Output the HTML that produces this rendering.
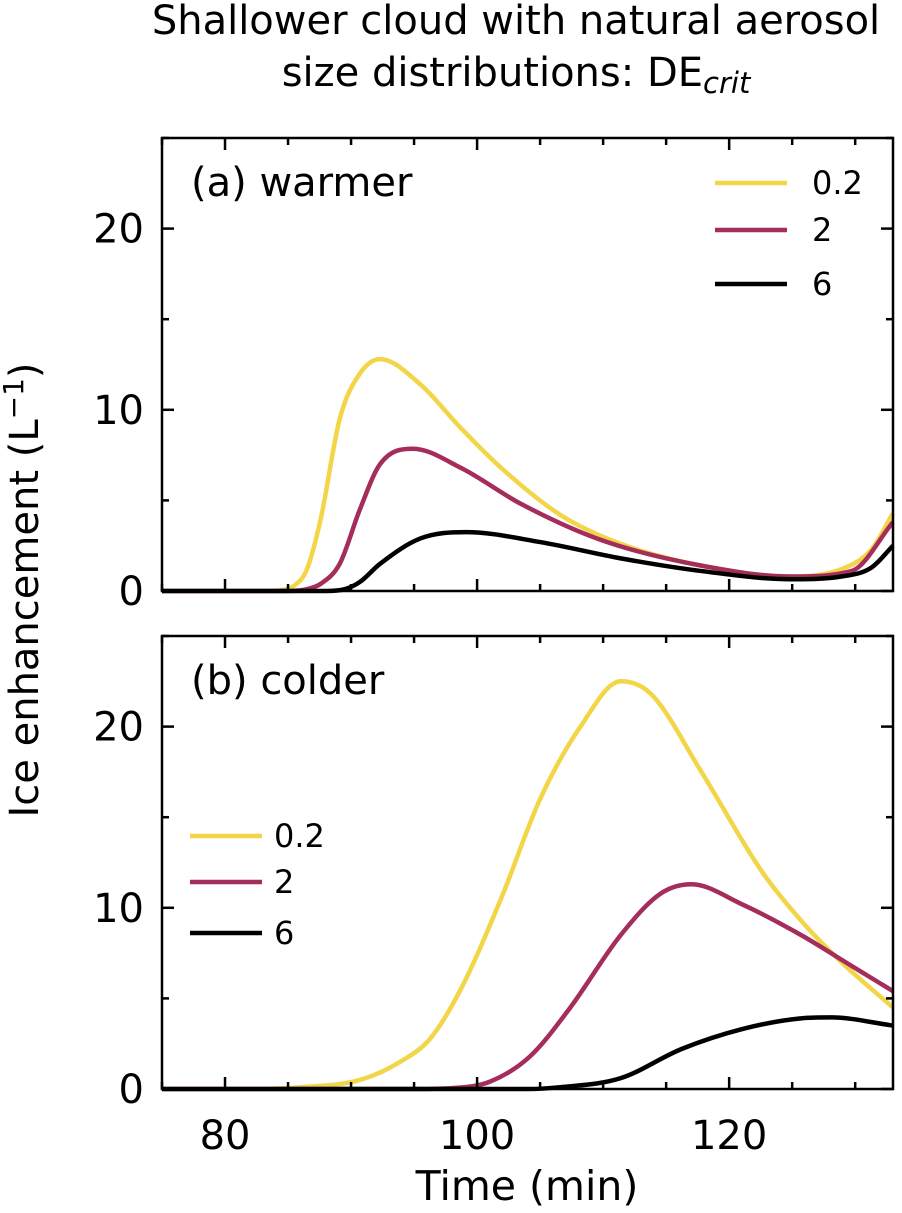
<!DOCTYPE html>
<html><head><meta charset="utf-8"><style>
body{margin:0;background:#fff;}
svg text{font-family:"DejaVu Sans","Liberation Sans",sans-serif;fill:#000;}
</style></head><body>
<svg id="c" width="902" height="1208" xmlns="http://www.w3.org/2000/svg">
<text x="516" y="34" font-size="40" text-anchor="middle">Shallower cloud with natural aerosol</text>
<text x="516" y="86" font-size="40" text-anchor="middle">size distributions: DE<tspan font-style="italic" font-size="29" dy="7">crit</tspan></text>
<text transform="translate(38,590) rotate(-90)" font-size="40" text-anchor="middle">Ice enhancement (L<tspan font-size="28" dy="-15">−1</tspan><tspan dy="15">)</tspan></text>
<text x="527" y="1200" font-size="41" text-anchor="middle">Time (min)</text>
</svg>
<script>
const times=[75,83,84.5,85.5,86.5,87.6,89.1,90.7,92.3,95.5,98.7,101.9,106.6,111.4,117.8,124.9,128.9,131.3,133];
const aYellow=[0,0,0.05,0.3,1.2,4,9.5,12,12.8,11.4,9,6.8,4.2,2.6,1.4,0.8,1.2,2.3,4.3];
const aTimesM=[75,85,86.5,87.6,89.1,90.7,92.3,94.9,98.7,103.5,109.9,117.8,124.9,129.7,133];
const aMagenta=[0,0,0.1,0.4,1.5,4.5,7,7.85,6.8,4.8,2.8,1.4,0.8,1.1,3.8];
const aTimesK=[75,88,89.5,90.7,92.3,95.5,99.1,105,111.4,117.8,124.9,128.9,131.3,133];
const aBlack=[0,0,0.1,0.5,1.5,2.9,3.25,2.7,1.8,1.1,0.65,0.8,1.3,2.5];
const bTimesY=[75,82,86,90.7,93.9,96.3,98.7,101.9,105,108.2,111.4,113.8,117.8,122.6,125.7,128.9,133];
const bYellow=[0,0,0.1,0.5,1.5,2.8,5.5,10.5,16,20,22.5,21.8,17.5,12,9.3,7,4.5];
const bTimesM=[75,95,98,101,104.2,107.4,111.4,114.6,117,121,125.7,129.7,133];
const bMagenta=[0,0,0.05,0.4,1.8,4.5,8.5,10.8,11.3,10.2,8.5,6.8,5.4];
const bTimesK=[75,104,106.6,111.4,116.2,121,125.7,128.1,133];
const bBlack=[0,0,0.1,0.6,2.2,3.3,3.9,3.95,3.5];
const xTicks=[80,100,120];
const yTicks=[0,10,20];
const NS="http://www.w3.org/2000/svg",svg=document.getElementById('c');
const X0=162,X1=893,T0=75,T1=133;
const xs=t=>X0+(t-T0)/(T1-T0)*(X1-X0);
function mk(tag,at,p){const e=document.createElementNS(NS,tag);for(const k in at)e.setAttribute(k,at[k]);(p||svg).appendChild(e);return e;}
function mono(pts){
  const n=pts.length,d=[],m=[];
  for(let i=0;i<n-1;i++)d.push((pts[i+1][1]-pts[i][1])/(pts[i+1][0]-pts[i][0]));
  m[0]=d[0];m[n-1]=d[n-2];
  for(let i=1;i<n-1;i++){m[i]=(d[i-1]*d[i]<=0)?0:(d[i-1]+d[i])/2;}
  for(let i=0;i<n-1;i++){if(d[i]===0){m[i]=0;m[i+1]=0;continue;}const a=m[i]/d[i],b=m[i+1]/d[i],s=a*a+b*b;if(s>9){const t=3/Math.sqrt(s);m[i]=t*a*d[i];m[i+1]=t*b*d[i];}}
  let p=`M${pts[0][0]},${pts[0][1]}`;
  for(let i=0;i<n-1;i++){const h=(pts[i+1][0]-pts[i][0])/3;p+=`C${pts[i][0]+h},${pts[i][1]+m[i]*h} ${pts[i+1][0]-h},${pts[i+1][1]-m[i+1]*h} ${pts[i+1][0]},${pts[i+1][1]}`;}
  return p;}
function panel(top,bottom,label,series,leg,name){
  const ys=v=>bottom-v/25*(bottom-top);
  const g=mk('g',{});
  
  
  series.forEach(s=>{
    const p=mk('path',{d:mono(s.t.map((t,i)=>[xs(t),ys(s.v[i])])),fill:'none',stroke:s.c,'stroke-width':4.5,'stroke-linejoin':'round'},g);
    
    
  });
  mk('rect',{x:X0,y:top,width:X1-X0,height:bottom-top,fill:'none',stroke:'#000','stroke-width':2.5},g);
  for(let t=75;t<=T1;t+=5){const x=xs(t),L=xTicks.includes(t)?12:7;
    mk('line',{x1:x,x2:x,y1:bottom,y2:bottom-L,stroke:'#000','stroke-width':2.5},g);
    mk('line',{x1:x,x2:x,y1:top,y2:top+L,stroke:'#000','stroke-width':2.5},g);}
  for(let v=0;v<=25;v+=5){const y=ys(v),L=yTicks.includes(v)?12:7;
    mk('line',{x1:X0,x2:X0+L,y1:y,y2:y,stroke:'#000','stroke-width':2.5},g);
    mk('line',{x1:X1,x2:X1-L,y1:y,y2:y,stroke:'#000','stroke-width':2.5},g);}
  yTicks.forEach(v=>{const t=mk('text',{x:144,y:ys(v)+14,'font-size':40,'text-anchor':'end'},g);t.textContent=v;
    
    });
  const pl=mk('text',{x:191,y:top+58,'font-size':40},g);pl.textContent=label;
  
  
  series.forEach((s,i)=>{
    const y=leg.y[i];
    const ln=mk('line',{x1:leg.x1,x2:leg.x2,y1:y,y2:y,stroke:s.c,'stroke-width':4.5},g);
    
    
    const tx=mk('text',{x:leg.tx,y:y+11,'font-size':32},g);tx.textContent=s.n;
    
    
  });
}
const cy='#f3d548',cm='#a52d5c',ck='#000';
panel(138,591,'(a) warmer',[{t:times,v:aYellow,c:cy,n:'0.2'},{t:aTimesM,v:aMagenta,c:cm,n:'2'},{t:aTimesK,v:aBlack,c:ck,n:'6'}],{x1:715,x2:787,tx:812,y:[183,230,284]},'panel-a');
panel(636,1089,'(b) colder',[{t:bTimesY,v:bYellow,c:cy,n:'0.2'},{t:bTimesM,v:bMagenta,c:cm,n:'2'},{t:bTimesK,v:bBlack,c:ck,n:'6'}],{x1:190,x2:262,tx:274,y:[836,882,933]},'panel-b');
xTicks.forEach(t=>{const e=mk('text',{x:xs(t),y:1149,'font-size':40,'text-anchor':'middle'});e.textContent=t;
  
  });
</script>
</body></html>
